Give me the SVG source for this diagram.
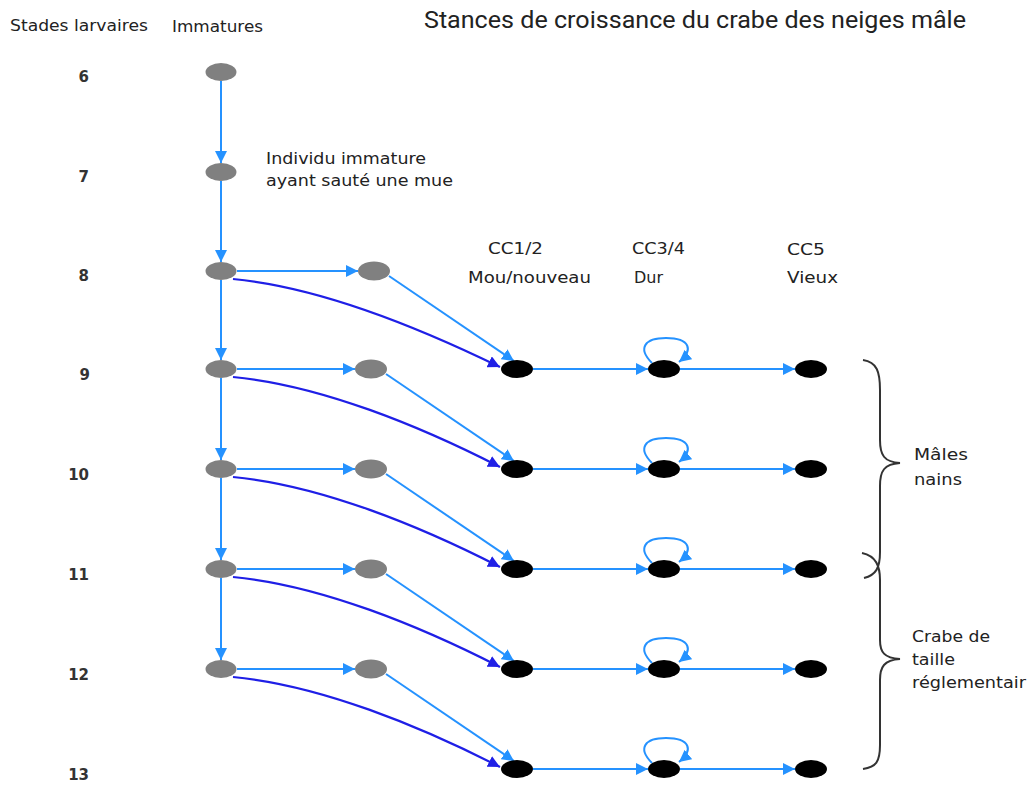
<svg xmlns="http://www.w3.org/2000/svg" width="1029" height="785" viewBox="0 0 1029 785">
<style>
  .lbl{font-family:"DejaVu Sans","Liberation Sans",sans-serif;font-size:15px;fill:#222}
  .num{font-family:"DejaVu Sans","Liberation Sans",sans-serif;font-size:15px;font-weight:bold;fill:#333;text-anchor:end}
  .title{font-family:Roboto,"Liberation Sans",sans-serif;font-size:23px;fill:#222}
  .imm{fill:#808080}
  .blk{fill:#000}
  .lb{stroke:#2592FF;stroke-width:2;fill:none}
  .db{stroke:#1F1FE6;stroke-width:2.2;fill:none}
  .br{stroke:#333;stroke-width:2;fill:none}
</style>
<defs>
  <marker id="ma" markerUnits="userSpaceOnUse" markerWidth="13" markerHeight="12" refX="12" refY="6" orient="auto">
    <path d="M0,0 L12,6 L0,12 Z" fill="#2592FF"/>
  </marker>
  <marker id="mb" markerUnits="userSpaceOnUse" markerWidth="13" markerHeight="12" refX="12" refY="6" orient="auto">
    <path d="M0,0 L12,6 L0,12 Z" fill="#1F1FE6"/>
  </marker>
</defs>
<rect width="1029" height="785" fill="#fff"/>

<g id="labels">
  <text class="lbl" x="10" y="31" textLength="138" lengthAdjust="spacingAndGlyphs">Stades larvaires</text>
  <text class="lbl" x="172" y="32" textLength="91" lengthAdjust="spacingAndGlyphs">Immatures</text>
  <text class="title" x="424" y="28" textLength="542" lengthAdjust="spacingAndGlyphs">Stances de croissance du crabe des neiges mâle</text>
  <text class="num" x="89" y="82">6</text>
  <text class="num" x="89" y="182">7</text>
  <text class="num" x="89" y="281">8</text>
  <text class="num" x="90" y="380">9</text>
  <text class="num" x="89" y="480">10</text>
  <text class="num" x="89" y="580">11</text>
  <text class="num" x="89" y="680">12</text>
  <text class="num" x="89" y="780">13</text>
  <text class="lbl" x="266" y="164" textLength="160" lengthAdjust="spacingAndGlyphs">Individu immature</text>
  <text class="lbl" x="266" y="186" textLength="187" lengthAdjust="spacingAndGlyphs">ayant sauté une mue</text>
  <text class="lbl" x="488" y="254" textLength="55" lengthAdjust="spacingAndGlyphs">CC1/2</text>
  <text class="lbl" x="468" y="283" textLength="123" lengthAdjust="spacingAndGlyphs">Mou/nouveau</text>
  <text class="lbl" x="632" y="254" textLength="53" lengthAdjust="spacingAndGlyphs">CC3/4</text>
  <text class="lbl" x="634" y="283" textLength="29" lengthAdjust="spacingAndGlyphs">Dur</text>
  <text class="lbl" x="787" y="255" textLength="38" lengthAdjust="spacingAndGlyphs">CC5</text>
  <text class="lbl" x="787" y="283" textLength="51" lengthAdjust="spacingAndGlyphs">Vieux</text>
  <text class="lbl" x="914" y="460" textLength="54" lengthAdjust="spacingAndGlyphs">Mâles</text>
  <text class="lbl" x="914" y="485" textLength="48" lengthAdjust="spacingAndGlyphs">nains</text>
  <text class="lbl" x="912" y="642" textLength="78" lengthAdjust="spacingAndGlyphs">Crabe de</text>
  <text class="lbl" x="912" y="665" textLength="43" lengthAdjust="spacingAndGlyphs">taille</text>
  <text class="lbl" x="912" y="688" textLength="114" lengthAdjust="spacingAndGlyphs">réglementair</text>
</g>

<g id="braces">
  <path class="br" d="M863,360 C877,362 880,372 880,390 L880,440 C880,455 884,462 900,463 C884,464 880,471 880,486 L880,552 C880,568 876,575 864,578"/>
  <path class="br" d="M862,553 C876,556 880,566 880,580 L880,640 C880,652 884,658 900,659 C884,660 880,667 880,680 L880,745 C880,762 876,767 863,769"/>
</g>

<g id="connectors">
  <line class="lb" x1="221" y1="81" x2="221" y2="163" marker-end="url(#ma)"/>
  <line class="lb" x1="221" y1="181" x2="221" y2="262" marker-end="url(#ma)"/>
  <line class="lb" x1="221" y1="280" x2="221" y2="360" marker-end="url(#ma)"/>
  <line class="lb" x1="221" y1="378" x2="221" y2="460" marker-end="url(#ma)"/>
  <line class="lb" x1="221" y1="478" x2="221" y2="560" marker-end="url(#ma)"/>
  <line class="lb" x1="221" y1="578" x2="221" y2="660" marker-end="url(#ma)"/>
  <line class="lb" x1="237" y1="271" x2="358" y2="271" stroke-width="3" marker-end="url(#ma)"/>
  <line class="lb" x1="237" y1="369" x2="355" y2="369" stroke-width="3" marker-end="url(#ma)"/>
  <line class="lb" x1="237" y1="469" x2="355" y2="469" stroke-width="3" marker-end="url(#ma)"/>
  <line class="lb" x1="237" y1="569" x2="355" y2="569" stroke-width="3" marker-end="url(#ma)"/>
  <line class="lb" x1="237" y1="669" x2="355" y2="669" stroke-width="3" marker-end="url(#ma)"/>
  <path class="db" d="M233,279 C320,287 420,328 500,367" marker-end="url(#mb)"/>
  <path class="db" d="M233,377 C320,385 420,426 500,467" marker-end="url(#mb)"/>
  <path class="db" d="M233,477 C320,485 420,526 500,567" marker-end="url(#mb)"/>
  <path class="db" d="M233,577 C320,585 420,626 500,667" marker-end="url(#mb)"/>
  <path class="db" d="M233,677 C320,685 420,726 500,767" marker-end="url(#mb)"/>
  <line class="lb" x1="389" y1="276" x2="514" y2="361" marker-end="url(#ma)"/>
  <line class="lb" x1="386" y1="374" x2="514" y2="461" marker-end="url(#ma)"/>
  <line class="lb" x1="386" y1="474" x2="514" y2="561" marker-end="url(#ma)"/>
  <line class="lb" x1="386" y1="574" x2="514" y2="661" marker-end="url(#ma)"/>
  <line class="lb" x1="386" y1="674" x2="514" y2="761" marker-end="url(#ma)"/>
  <line class="lb" x1="533" y1="369" x2="648" y2="369" marker-end="url(#ma)"/>
  <line class="lb" x1="680" y1="369" x2="795" y2="369" marker-end="url(#ma)"/>
  <line class="lb" x1="533" y1="469" x2="648" y2="469" marker-end="url(#ma)"/>
  <line class="lb" x1="680" y1="469" x2="795" y2="469" marker-end="url(#ma)"/>
  <line class="lb" x1="533" y1="569" x2="648" y2="569" marker-end="url(#ma)"/>
  <line class="lb" x1="680" y1="569" x2="795" y2="569" marker-end="url(#ma)"/>
  <line class="lb" x1="533" y1="669" x2="648" y2="669" marker-end="url(#ma)"/>
  <line class="lb" x1="680" y1="669" x2="795" y2="669" marker-end="url(#ma)"/>
  <line class="lb" x1="533" y1="769" x2="648" y2="769" marker-end="url(#ma)"/>
  <line class="lb" x1="680" y1="769" x2="795" y2="769" marker-end="url(#ma)"/>
  <path class="lb" d="M652,363 C637,348 645,338 666,338 C690,338 694,350 679,362" marker-end="url(#ma)"/>
  <path class="lb" d="M652,463 C637,448 645,438 666,438 C690,438 694,450 679,462" marker-end="url(#ma)"/>
  <path class="lb" d="M652,563 C637,548 645,538 666,538 C690,538 694,550 679,562" marker-end="url(#ma)"/>
  <path class="lb" d="M652,663 C637,648 645,638 666,638 C690,638 694,650 679,662" marker-end="url(#ma)"/>
  <path class="lb" d="M652,763 C637,748 645,738 666,738 C690,738 694,750 679,762" marker-end="url(#ma)"/>
</g>

<g id="n-i6"><ellipse class="imm" cx="221" cy="72" rx="15.5" ry="9"/></g>
<g id="n-i7"><ellipse class="imm" cx="221" cy="172" rx="15.5" ry="9"/></g>
<g id="n-i8"><ellipse class="imm" cx="221" cy="271" rx="15.5" ry="9"/></g>
<g id="n-i9"><ellipse class="imm" cx="221" cy="369" rx="15.5" ry="9"/></g>
<g id="n-i10"><ellipse class="imm" cx="221" cy="469" rx="15.5" ry="9"/></g>
<g id="n-i11"><ellipse class="imm" cx="221" cy="569" rx="15.5" ry="9"/></g>
<g id="n-i12"><ellipse class="imm" cx="221" cy="669" rx="15.5" ry="9"/></g>

<g id="n-s8"><ellipse class="imm" cx="374" cy="271" rx="16" ry="9.5"/></g>
<g id="n-s9"><ellipse class="imm" cx="371" cy="369" rx="16" ry="9.5"/></g>
<g id="n-s10"><ellipse class="imm" cx="371" cy="469" rx="16" ry="9.5"/></g>
<g id="n-s11"><ellipse class="imm" cx="371" cy="569" rx="16" ry="9.5"/></g>
<g id="n-s12"><ellipse class="imm" cx="371" cy="669" rx="16" ry="9.5"/></g>

<g id="n-a9"><ellipse class="blk" cx="517" cy="369" rx="16" ry="9"/></g>
<g id="n-a10"><ellipse class="blk" cx="517" cy="469" rx="16" ry="9"/></g>
<g id="n-a11"><ellipse class="blk" cx="517" cy="569" rx="16" ry="9"/></g>
<g id="n-a12"><ellipse class="blk" cx="517" cy="669" rx="16" ry="9"/></g>
<g id="n-a13"><ellipse class="blk" cx="517" cy="769" rx="16" ry="9"/></g>

<g id="n-b9"><ellipse class="blk" cx="664" cy="369" rx="16" ry="9"/></g>
<g id="n-b10"><ellipse class="blk" cx="664" cy="469" rx="16" ry="9"/></g>
<g id="n-b11"><ellipse class="blk" cx="664" cy="569" rx="16" ry="9"/></g>
<g id="n-b12"><ellipse class="blk" cx="664" cy="669" rx="16" ry="9"/></g>
<g id="n-b13"><ellipse class="blk" cx="664" cy="769" rx="16" ry="9"/></g>

<g id="n-c9"><ellipse class="blk" cx="811" cy="369" rx="16" ry="9"/></g>
<g id="n-c10"><ellipse class="blk" cx="811" cy="469" rx="16" ry="9"/></g>
<g id="n-c11"><ellipse class="blk" cx="811" cy="569" rx="16" ry="9"/></g>
<g id="n-c12"><ellipse class="blk" cx="811" cy="669" rx="16" ry="9"/></g>
<g id="n-c13"><ellipse class="blk" cx="811" cy="769" rx="16" ry="9"/></g>
</svg>
